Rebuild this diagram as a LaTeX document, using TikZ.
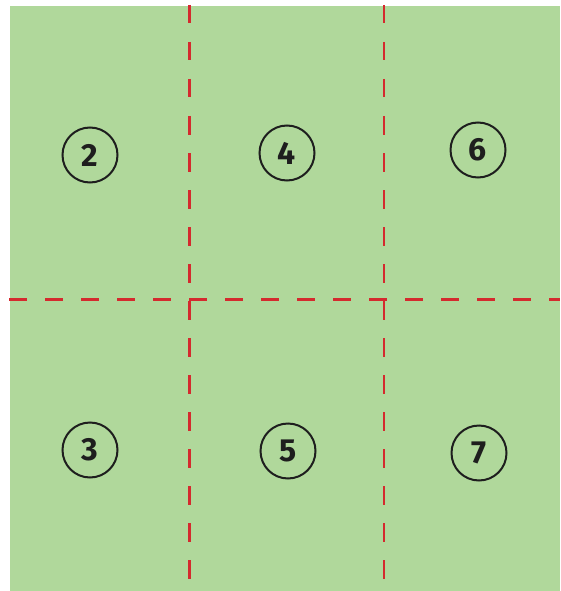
\documentclass[tikz,border=0pt]{standalone}
\usepackage{fontspec}
\setmainfont{Fira Sans}
\usepackage{xcolor}
\usepackage{tikz}
\usetikzlibrary{positioning}
\definecolor{field}{HTML}{B0D89B}
\definecolor{cutline}{HTML}{D42A2E}
\definecolor{ink}{HTML}{1E1E1E}

\begin{document}
\begin{tikzpicture}[x=1pt, y=-1pt,
    marker/.style={circle, draw=ink, line width=2pt, minimum size=55pt, inner sep=0pt, text=ink, font=\fontsize{32}{32}\selectfont\bfseries},
    cut/.style={draw=cutline, line width=2.2pt, dash pattern=on 18.5pt off 18.5pt}
]
    \useasboundingbox (0,0) rectangle (560,591);

    % Background
    \fill[field] (10,6) rectangle (560,591);

    % Cut lines
    \draw[cut] (189.5,5) -- (189.5,591);
    \draw[cut] (384,5) -- (384,591);
    \draw[cut, dash pattern=on 18pt off 18pt] (9,299.5) -- (560,299.5);

    % Top row
    \node[marker] (n2) at (90,155) {2};
    \node[marker] (n4) at (287,153) {4};
    \node[marker] (n6) at (478,150) {6};

    % Bottom row
    \node[marker] (n3) at (90,450) {3};
    \node[marker] (n5) at (288,451) {5};
    \node[marker] (n7) at (479,453) {7};
\end{tikzpicture}
\end{document}
